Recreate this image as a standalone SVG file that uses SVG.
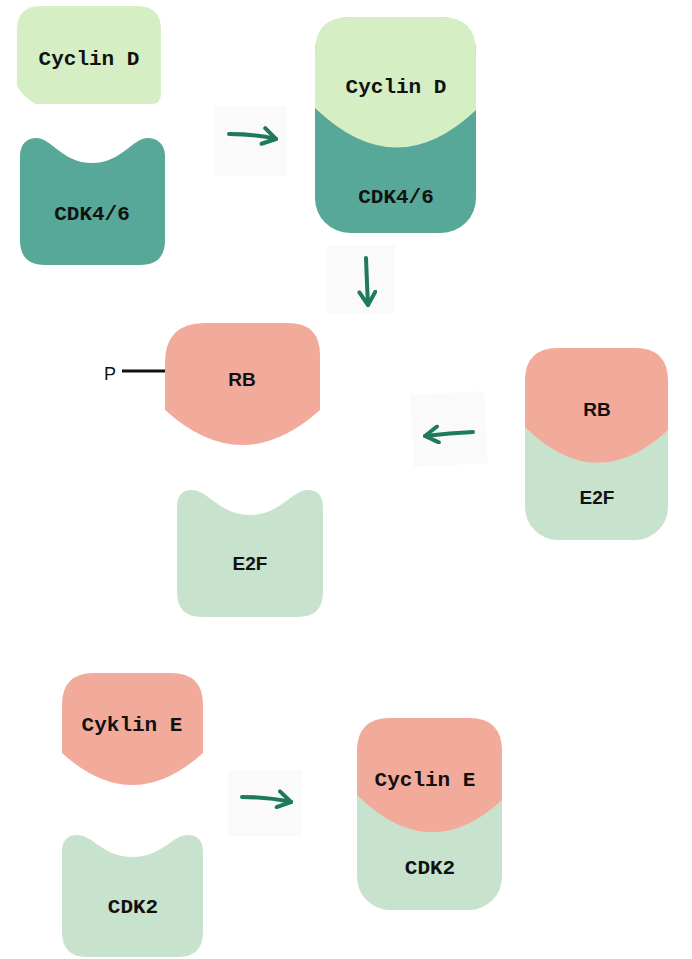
<svg xmlns="http://www.w3.org/2000/svg" width="692" height="959" viewBox="0 0 692 959">
<style>
.cycd{fill:#d5eec4}
.cdk46{fill:#57a898}
.rb{fill:#f2ab9b}
.e2f{fill:#c8e3cd}
.bg{fill:#f9faf9}
.mono{font-family:"Liberation Mono","DejaVu Sans Mono",monospace;font-weight:bold;font-size:21px;fill:#111;text-anchor:middle}
.sans{font-family:"Liberation Sans","DejaVu Sans",sans-serif;font-weight:bold;font-size:19px;fill:#111;text-anchor:middle}
.arrow{fill:none;stroke:#1f7a5c;stroke-width:4;stroke-linecap:round;marker-end:url(#ah)}
</style>
<defs>
<marker id="ah" viewBox="-15 -10 17 20" refX="0" refY="0" markerWidth="17" markerHeight="20" markerUnits="userSpaceOnUse" orient="auto">
<path d="M-13,-8 L0,0 L-13,8" fill="none" stroke="#1f7a5c" stroke-width="4" stroke-linecap="round" stroke-linejoin="round"/>
</marker>
</defs>
<rect width="692" height="959" fill="#ffffff"/>

<g id="connectors">
<rect class="bg" x="215" y="106" width="72" height="70"/>
<rect class="bg" x="327" y="245" width="68" height="68"/>
<rect class="bg" x="412" y="393" width="74" height="72" transform="rotate(-3 449 429)"/>
<rect class="bg" x="228" y="770" width="74" height="66"/>
<path class="arrow" d="M229,134 Q255,134 276,139"/>
<path class="arrow" d="M366,258 Q367,284 368,305"/>
<path class="arrow" d="M473,432 Q450,433 425,436"/>
<path class="arrow" d="M242,797 Q268,797 291,802"/>
<line x1="122" y1="371" x2="165" y2="371" stroke="#111" stroke-width="3"/>
</g>

<g id="cyclinD">
<path class="cycd" d="M17,86 L17,30 Q17,6 41,6 L137,6 Q161,6 161,30 L161,94 Q161,104 151,104 L36,104 Q24,98 17,86 Z"/>
<text class="mono" x="89" y="65">Cyclin D</text>
</g>

<g id="cdk46">
<path class="cdk46" d="M20,156 C20,143 28,138 36,138 C52,138 62,163 92,163 C122,163 132,138 148,138 C156,138 165,143 165,156 L165,240 Q165,265 140,265 L45,265 Q20,265 20,240 Z"/>
<text class="mono" x="92" y="220">CDK4/6</text>
</g>

<g id="cyclinD-cdk46">
<rect class="cdk46" x="315" y="17" width="161" height="216" rx="35"/>
<path class="cycd" d="M315,108 L315,52 Q315,17 350,17 L441,17 Q476,17 476,52 L476,110 Q396,186 315,108 Z"/>
<text class="mono" x="396" y="93">Cyclin D</text>
<text class="mono" x="396" y="203">CDK4/6</text>
</g>

<g id="rbP">
<path class="rb" d="M165,410 L165,363 Q165,323 205,323 L288,323 Q320,323 320,355 L320,410 Q242,480 165,410 Z"/>
<text class="sans" x="242" y="386">RB</text>
<text x="110" y="380" style="font-family:'Liberation Sans','DejaVu Sans',sans-serif;font-size:18px;fill:#111;text-anchor:middle">P</text>
</g>

<g id="rb-e2f">
<rect class="e2f" x="525" y="348" width="143" height="192" rx="33"/>
<path class="rb" d="M525,427 L525,381 Q525,348 558,348 L635,348 Q668,348 668,381 L668,430 Q596,497 525,427 Z"/>
<text class="sans" x="597" y="416">RB</text>
<text class="sans" x="597" y="504">E2F</text>
</g>

<g id="e2f">
<path class="e2f" d="M177,508 C177,494 184,490 192,490 C208,490 220,515 250,515 C280,515 292,490 308,490 C316,490 323,494 323,508 L323,592 Q323,617 298,617 L202,617 Q177,617 177,592 Z"/>
<text class="sans" x="250" y="570">E2F</text>
</g>

<g id="cyklinE">
<path class="rb" d="M62,753 L62,705 Q62,673 94,673 L171,673 Q203,673 203,705 L203,753 Q132,817 62,753 Z"/>
<text class="mono" x="132" y="731">Cyklin E</text>
</g>

<g id="cdk2">
<path class="e2f" d="M62,852 C62,839 69,835 77,835 C93,835 103,857 132.5,857 C162,857 172,835 188,835 C196,835 203,839 203,852 L203,932 Q203,957 178,957 L87,957 Q62,957 62,932 Z"/>
<text class="mono" x="133" y="913">CDK2</text>
</g>

<g id="cyclinE-cdk2">
<rect class="e2f" x="357" y="718" width="145" height="192" rx="33"/>
<path class="rb" d="M357,795 L357,751 Q357,718 390,718 L469,718 Q502,718 502,751 L502,800 Q430,867 357,795 Z"/>
<text class="mono" x="425" y="786">Cyclin E</text>
<text class="mono" x="430" y="874">CDK2</text>
</g>
</svg>
